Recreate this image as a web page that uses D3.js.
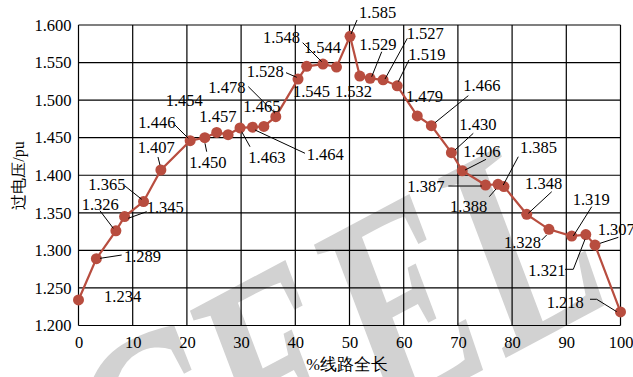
<!DOCTYPE html>
<html>
<head>
<meta charset="utf-8">
<script src="https://cdn.jsdelivr.net/npm/d3@7/dist/d3.min.js"></script>
<style>
  html, body { margin: 0; padding: 0; background: #fff; }
  svg { display: block; }
  text { font-family: "Liberation Serif", "Times New Roman", serif; }
</style>
</head>
<body>
<svg id="chart" width="633" height="377"></svg>
<script>
// Overvoltage profile along the line (% of total line length vs. per-unit overvoltage)
const positions = [0, 3.3, 6.9, 8.5, 12.0, 15.2, 20.6, 23.3, 25.5, 27.6, 29.8, 32.1, 34.2, 36.4,
  40.5, 42.1, 45.1, 47.6, 50.1, 51.9, 53.8, 56.2, 58.8, 62.5, 65.1, 68.8, 70.8,
  75.1, 77.4, 78.5, 82.7, 86.8, 91.0, 93.6, 95.3, 100];
const overvoltage = [1.234, 1.289, 1.326, 1.345, 1.365, 1.407, 1.446, 1.450, 1.457, 1.454, 1.463, 1.464, 1.465, 1.478,
  1.528, 1.545, 1.548, 1.544, 1.585, 1.532, 1.529, 1.527, 1.519, 1.479, 1.466, 1.430, 1.406,
  1.387, 1.388, 1.385, 1.348, 1.328, 1.319, 1.321, 1.307, 1.218];
const xTicks = [0, 10, 20, 30, 40, 50, 60, 70, 80, 90, 100];
const yTicks = [1.200, 1.250, 1.300, 1.350, 1.400, 1.450, 1.500, 1.550, 1.600];
const xTitle = "%线路全长";
const yTitle = "过电压/pu";

// Label placement relative to each point: text offset [dx, dy] and optional leader polyline
const labelLayout = [
  { t: [25.5, 1.7] },
  { t: [27.6, 3.1], l: [[25.3, -3.6], [3.6, -0.3]] },
  { t: [-34.2, -20.8], l: [[-15.9, -20.1], [-2.6, -2.5]] },
  { t: [22.1, -3.3], l: [[22.1, -4.9], [3.7, 1.7]] },
  { t: [-55.2, -11.5], l: [[-18.5, -15.5], [-1.8, -2.2]] },
  { t: [-23.2, -16.7], l: [[-2.9, -13], [-0.9, -5]] },
  { t: [-51.9, -12.4], l: [[-15.2, -15.7], [-1.9, -2.4]] },
  { t: [-15.5, 30.6], l: [[0.2, 5.6], [1.9, 14]] },
  { t: [-17.4, -10.7] },
  { t: [-62.4, -28.7] },
  { t: [8.3, 35.4], l: [[10, 18.8], [1.7, 3.8]] },
  { t: [54.2, 32.8], l: [[52.5, 26.1], [2.5, 2.8]] },
  { t: [-20.6, -14.7] },
  { t: [-67.5, -24], l: [[-27.5, -30], [-0.8, -3.4]] },
  { t: [-51.3, -1.8], l: [[-12, -6.4], [-1.3, -1.8]] },
  { t: [-13.7, 30.4] },
  { t: [-60, -21.1], l: [[-20.3, -21.4], [-1.3, -2.4]] },
  { t: [-32.5, -13.8] },
  { t: [9, -18.3], l: [[7, -16.3], [1, -2.3]] },
  { t: [-24.8, 20.6] },
  { t: [-10.8, -28.3], l: [[11.6, -26.6], [1.6, -1.6]] },
  { t: [23.6, -40.5], l: [[24.2, -41.5], [1.9, -0.8]] },
  { t: [11.1, -25.9], l: [[11.8, -25.9], [1.1, -4.2]] },
  { t: [-11.3, -14.2] },
  { t: [32, -34.7], l: [[37, -30], [3.7, -3]] },
  { t: [7.9, -22.7], l: [[21.9, -19.4], [3.6, -2.7]] },
  { t: [1.1, -13.4], l: [[23.8, -11.4], [2.8, -0.7]] },
  { t: [-78.2, 6.7], l: [[-37.2, 1], [-3.8, 1]] },
  { t: [-48, 28], l: [[-8.7, 12.4], [-2, 4.7]] },
  { t: [16, -33.2], l: [[14.3, -29.8], [-0.7, -1.5]] },
  { t: [-1.7, -25.3], l: [[25, -22.6], [1.6, -1]] },
  { t: [-45, 18.4], l: [[-7.3, 10.7], [-2.3, 5.7]] },
  { t: [1, -31.1], l: [[20, -29.4], [1.6, -0.1]] },
  { t: [-57.5, 41.4], l: [[-20.8, 34.7], [-12.5, 34.7], [-0.8, 4.7]] },
  { t: [2.7, -10.1], l: [[23.3, -7.8], [5, -1.8]] },
  { t: [-73.8, -4.3], l: [[-30.5, -12.7], [-23.8, -12.7], [-3.8, -0.3]] }
];

const svg = d3.select("#chart");
const x = d3.scaleLinear().domain([0, 100]).range([78.5, 620.5]);
const y = d3.scaleLinear().domain([1.2, 1.6]).range([325.5, 25]);
const lineColor = "#b84d3f";

// Watermark behind the plot
svg.append("text")
  .attr("transform", "translate(135,555) rotate(-28)")
  .attr("font-size", 290)
  .attr("font-style", "italic")
  .attr("font-weight", "bold")
  .attr("fill", "#d2d2d2")
  .attr("textLength", 550)
  .attr("lengthAdjust", "spacingAndGlyphs")
  .text("CEEL");

// Grid
const grid = svg.append("g").attr("stroke", "#000").attr("stroke-width", 1.2).attr("fill", "none");
xTicks.forEach(t => grid.append("line").attr("x1", x(t)).attr("x2", x(t)).attr("y1", y(1.6)).attr("y2", y(1.2)));
yTicks.forEach(t => grid.append("line").attr("x1", x(0)).attr("x2", x(100)).attr("y1", y(t)).attr("y2", y(t)));

// Axes (tick labels only; lines are the grid)
const xAxis = svg.append("g").attr("transform", `translate(0,${y(1.2)})`)
  .call(d3.axisBottom(x).tickValues(xTicks).tickSize(0).tickPadding(11).tickFormat(d3.format("d")));
const yAxis = svg.append("g").attr("transform", `translate(${x(0)},0)`)
  .call(d3.axisLeft(y).tickValues(yTicks).tickSize(0).tickPadding(7).tickFormat(d3.format(".3f")));
[xAxis, yAxis].forEach(a => {
  a.select(".domain").remove();
  a.selectAll("text").attr("font-size", 16.5).attr("fill", "#000")
    .attr("font-family", "'Liberation Serif', serif");
});

svg.append("text").attr("x", 347).attr("y", 370).attr("text-anchor", "middle")
  .attr("font-size", 16.5).attr("font-family", "'Noto Sans CJK SC', sans-serif").text(xTitle);
svg.append("text").attr("transform", "translate(24,175.5) rotate(-90)").attr("text-anchor", "middle")
  .attr("font-size", 16).attr("font-family", "'Noto Sans CJK SC', sans-serif").text(yTitle);

// Series line and markers
const pts = positions.map((p, i) => ({ p, v: overvoltage[i], lay: labelLayout[i] }));
svg.append("path").datum(pts)
  .attr("d", d3.line().x(d => x(d.p)).y(d => y(d.v)))
  .attr("fill", "none").attr("stroke", lineColor).attr("stroke-width", 2.2);
svg.append("g").selectAll("circle").data(pts).join("circle")
  .attr("cx", d => x(d.p)).attr("cy", d => y(d.v)).attr("r", 5.5).attr("fill", lineColor);

// Leader lines and value labels
const lab = svg.append("g");
pts.forEach(d => {
  const cx = x(d.p), cy = y(d.v);
  if (d.lay.l) {
    lab.append("polyline")
      .attr("points", d.lay.l.map(o => `${cx + o[0]},${cy + o[1]}`).join(" "))
      .attr("fill", "none").attr("stroke", "#000").attr("stroke-width", 1);
  }
  lab.append("text").attr("x", cx + d.lay.t[0]).attr("y", cy + d.lay.t[1])
    .attr("font-size", 16.5).attr("fill", "#000").text(d3.format(".3f")(d.v));
});
</script>
</body>
</html>
